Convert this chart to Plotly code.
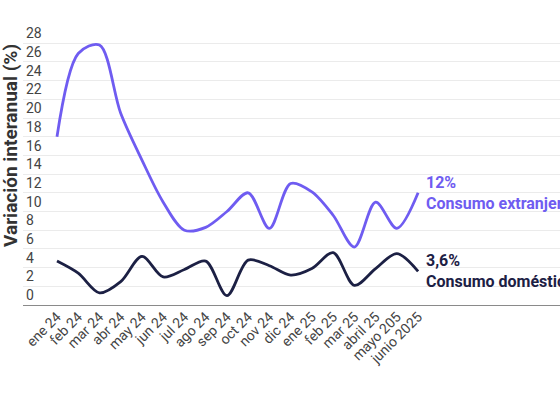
import plotly.graph_objects as go

months = ["ene 24", "feb 24", "mar 24", "abr 24", "may 24", "jun 24", "jul 24", "ago 24",
          "sep 24", "oct 24", "nov 24", "dic 24", "ene 25", "feb 25", "mar 25", "abril 25",
          "mayo 205", "junio 2025"]
extranjero = [18.0, 26.9, 27.8, 20.5, 15.5, 11.0, 8.0, 8.3, 10.0, 12.0, 8.2, 13.0,
              12.1, 9.6, 6.2, 11.0, 8.2, 12.0]
domestico = [4.7, 3.4, 1.3, 2.5, 5.2, 3.0, 3.8, 4.7, 1.0, 4.8, 4.2, 3.2,
             3.9, 5.6, 2.1, 3.9, 5.5, 3.6]
y_ticks = list(range(0, 29, 2))

names = ["Consumo extranjero", "Consumo doméstico"]
last_labels = ["12%", "3,6%"]
colors = ["#6f5cf1", "#1c2044"]

W, H = 560, 396
TOP = 22
BOTTOM = 305
LEFT = 23
PX_PER_UNIT = 9.35
PLOT_W = W - LEFT

fig = go.Figure()
for vals, name, col in [(extranjero, names[0], colors[0]), (domestico, names[1], colors[1])]:
    fig.add_trace(go.Scatter(x=months, y=vals, mode="lines", name=name,
                             line=dict(color=col, width=2.8, shape="spline", smoothing=0.9),
                             hoverinfo="skip"))

for vals, name, lab, col in [(extranjero, names[0], last_labels[0], colors[0]),
                             (domestico, names[1], last_labels[1], colors[1])]:
    fig.add_annotation(x=months[-1], y=vals[-1], xref="x", yref="y",
                       text=f"<b>{lab}</b><br><b>{name}</b>", showarrow=False,
                       xanchor="left", yanchor="middle", align="left", xshift=6,
                       font=dict(family="Roboto", size=16, color=col))

fig.add_annotation(x=(10 - LEFT) / PLOT_W, y=(BOTTOM - 146) / (BOTTOM - TOP),
                   xref="x domain", yref="y domain",
                   text="<b>Variación interanual (%)</b>", showarrow=False, textangle=-90,
                   xanchor="center", yanchor="middle",
                   font=dict(family="Roboto", size=19, color="#333333"))

fig.update_layout(
    width=W, height=H,
    margin=dict(l=LEFT, r=0, t=TOP, b=H - BOTTOM, autoexpand=False),
    paper_bgcolor="white", plot_bgcolor="white",
    showlegend=False,
    font=dict(family="Roboto", color="#444444"),
    xaxis=dict(type="category", range=[-1.6, 23.68], tickangle=-45, showgrid=False,
               tickfont=dict(size=14, color="#444444"), showline=False, ticks="",
               automargin=False, fixedrange=True),
    yaxis=dict(range=[0, (BOTTOM - TOP) / PX_PER_UNIT], tickvals=y_ticks,
               ticktext=[str(v) for v in y_ticks],
               ticklabelposition="inside top", tickfont=dict(size=14, color="#444444"),
               gridcolor="#ebebeb", gridwidth=1, zeroline=True, zerolinecolor="#8a8a8a",
               zerolinewidth=1.2, showline=False, ticks="", automargin=False, fixedrange=True),
)

fig.write_html("out.html", config={"displayModeBar": False},
               post_script="document.body.style.margin='0';")
